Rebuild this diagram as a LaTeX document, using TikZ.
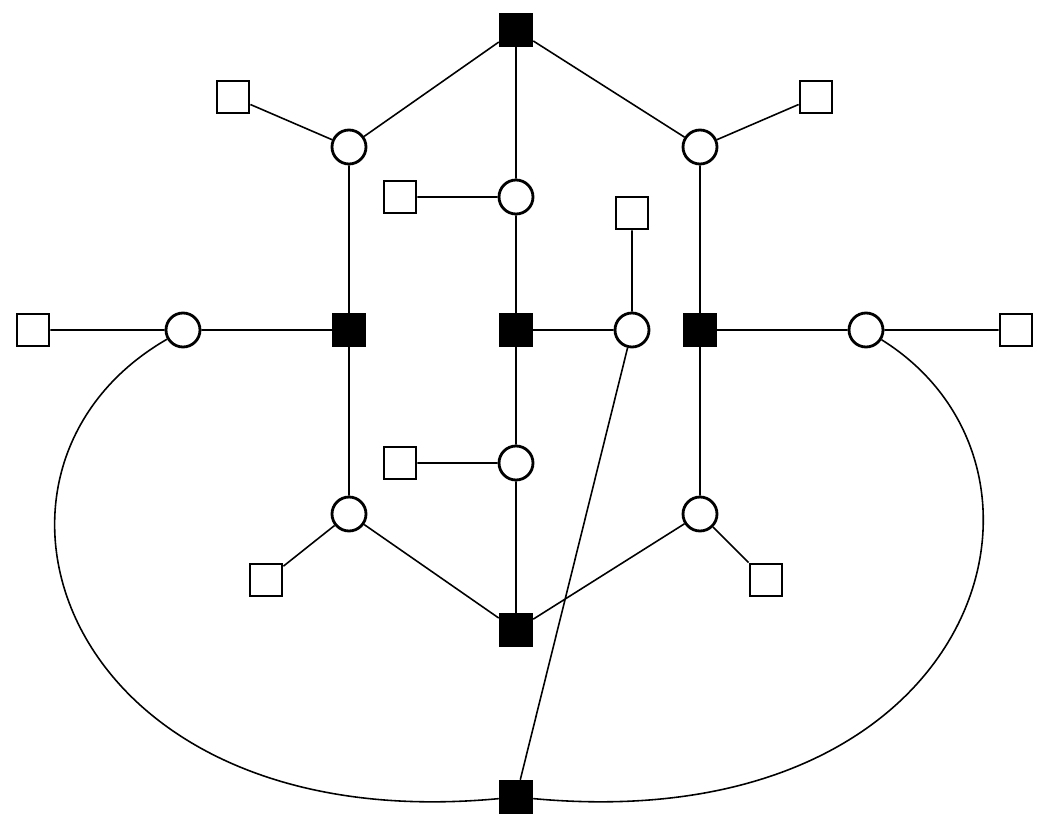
\documentclass[tikz,border=0pt]{standalone}
\begin{document}
\begin{tikzpicture}[x=0.02cm, y=-0.02cm,
    hub/.style={draw, fill=black, minimum size=0.64cm, inner sep=0pt, line width=1.4pt},
    leaf/.style={draw, fill=white, minimum size=0.64cm, inner sep=0pt, line width=1.6pt},
    joint/.style={draw, circle, fill=white, minimum size=0.68cm, inner sep=0pt, line width=1.6pt},
    wire/.style={line width=0.9pt}]
    \useasboundingbox (0,0) rectangle (1050,828);
    %% hubs
    \node[hub] (ht) at (516,30) {};
    \node[hub] (hl) at (349,330) {};
    \node[hub] (hc) at (516,330) {};
    \node[hub] (hr) at (700,330) {};
    \node[hub] (hb) at (516,630) {};
    \node[hub] (hz) at (516,797) {};
    %% joints
    \node[joint] (jtl) at (349,147) {};
    \node[joint] (jtc) at (516,197) {};
    \node[joint] (jtr) at (700,147) {};
    \node[joint] (jl) at (183,330) {};
    \node[joint] (jc) at (632,330) {};
    \node[joint] (jr) at (866,330) {};
    \node[joint] (jbc) at (516,463) {};
    \node[joint] (jbl) at (349,514) {};
    \node[joint] (jbr) at (700,514) {};
    %% leaves
    \node[leaf] (l1) at (233,97) {};
    \node[leaf] (l2) at (400,197) {};
    \node[leaf] (l3) at (816,97) {};
    \node[leaf] (l4) at (632,213) {};
    \node[leaf] (l5) at (33,330) {};
    \node[leaf] (l6) at (1016,330) {};
    \node[leaf] (l7) at (400,463) {};
    \node[leaf] (l8) at (266,580) {};
    \node[leaf] (l9) at (766,580) {};
    %% edges
    \begin{scope}[on background layer/.style={}]
    \draw[wire] (ht) -- (jtl) (ht) -- (jtc) (ht) -- (jtr)
        (l1) -- (jtl) (l2) -- (jtc) (l3) -- (jtr)
        (jtl) -- (hl) (jtc) -- (hc) (jtr) -- (hr)
        (l5) -- (jl) -- (hl) (hc) -- (jc) (l4) -- (jc)
        (hr) -- (jr) -- (l6)
        (hl) -- (jbl) (hc) -- (jbc) -- (hb) (hr) -- (jbr)
        (l7) -- (jbc) (jbl) -- (l8) (jbl) -- (hb) (jbr) -- (hb) (jbr) -- (l9)
        (jc) -- (hz);
    \draw[wire] (jl) .. controls (-60,470) and (60,840) .. (hz);
    \draw[wire] (jr) .. controls (1090,470) and (980,840) .. (hz);
    \end{scope}
\end{tikzpicture}
\end{document}
